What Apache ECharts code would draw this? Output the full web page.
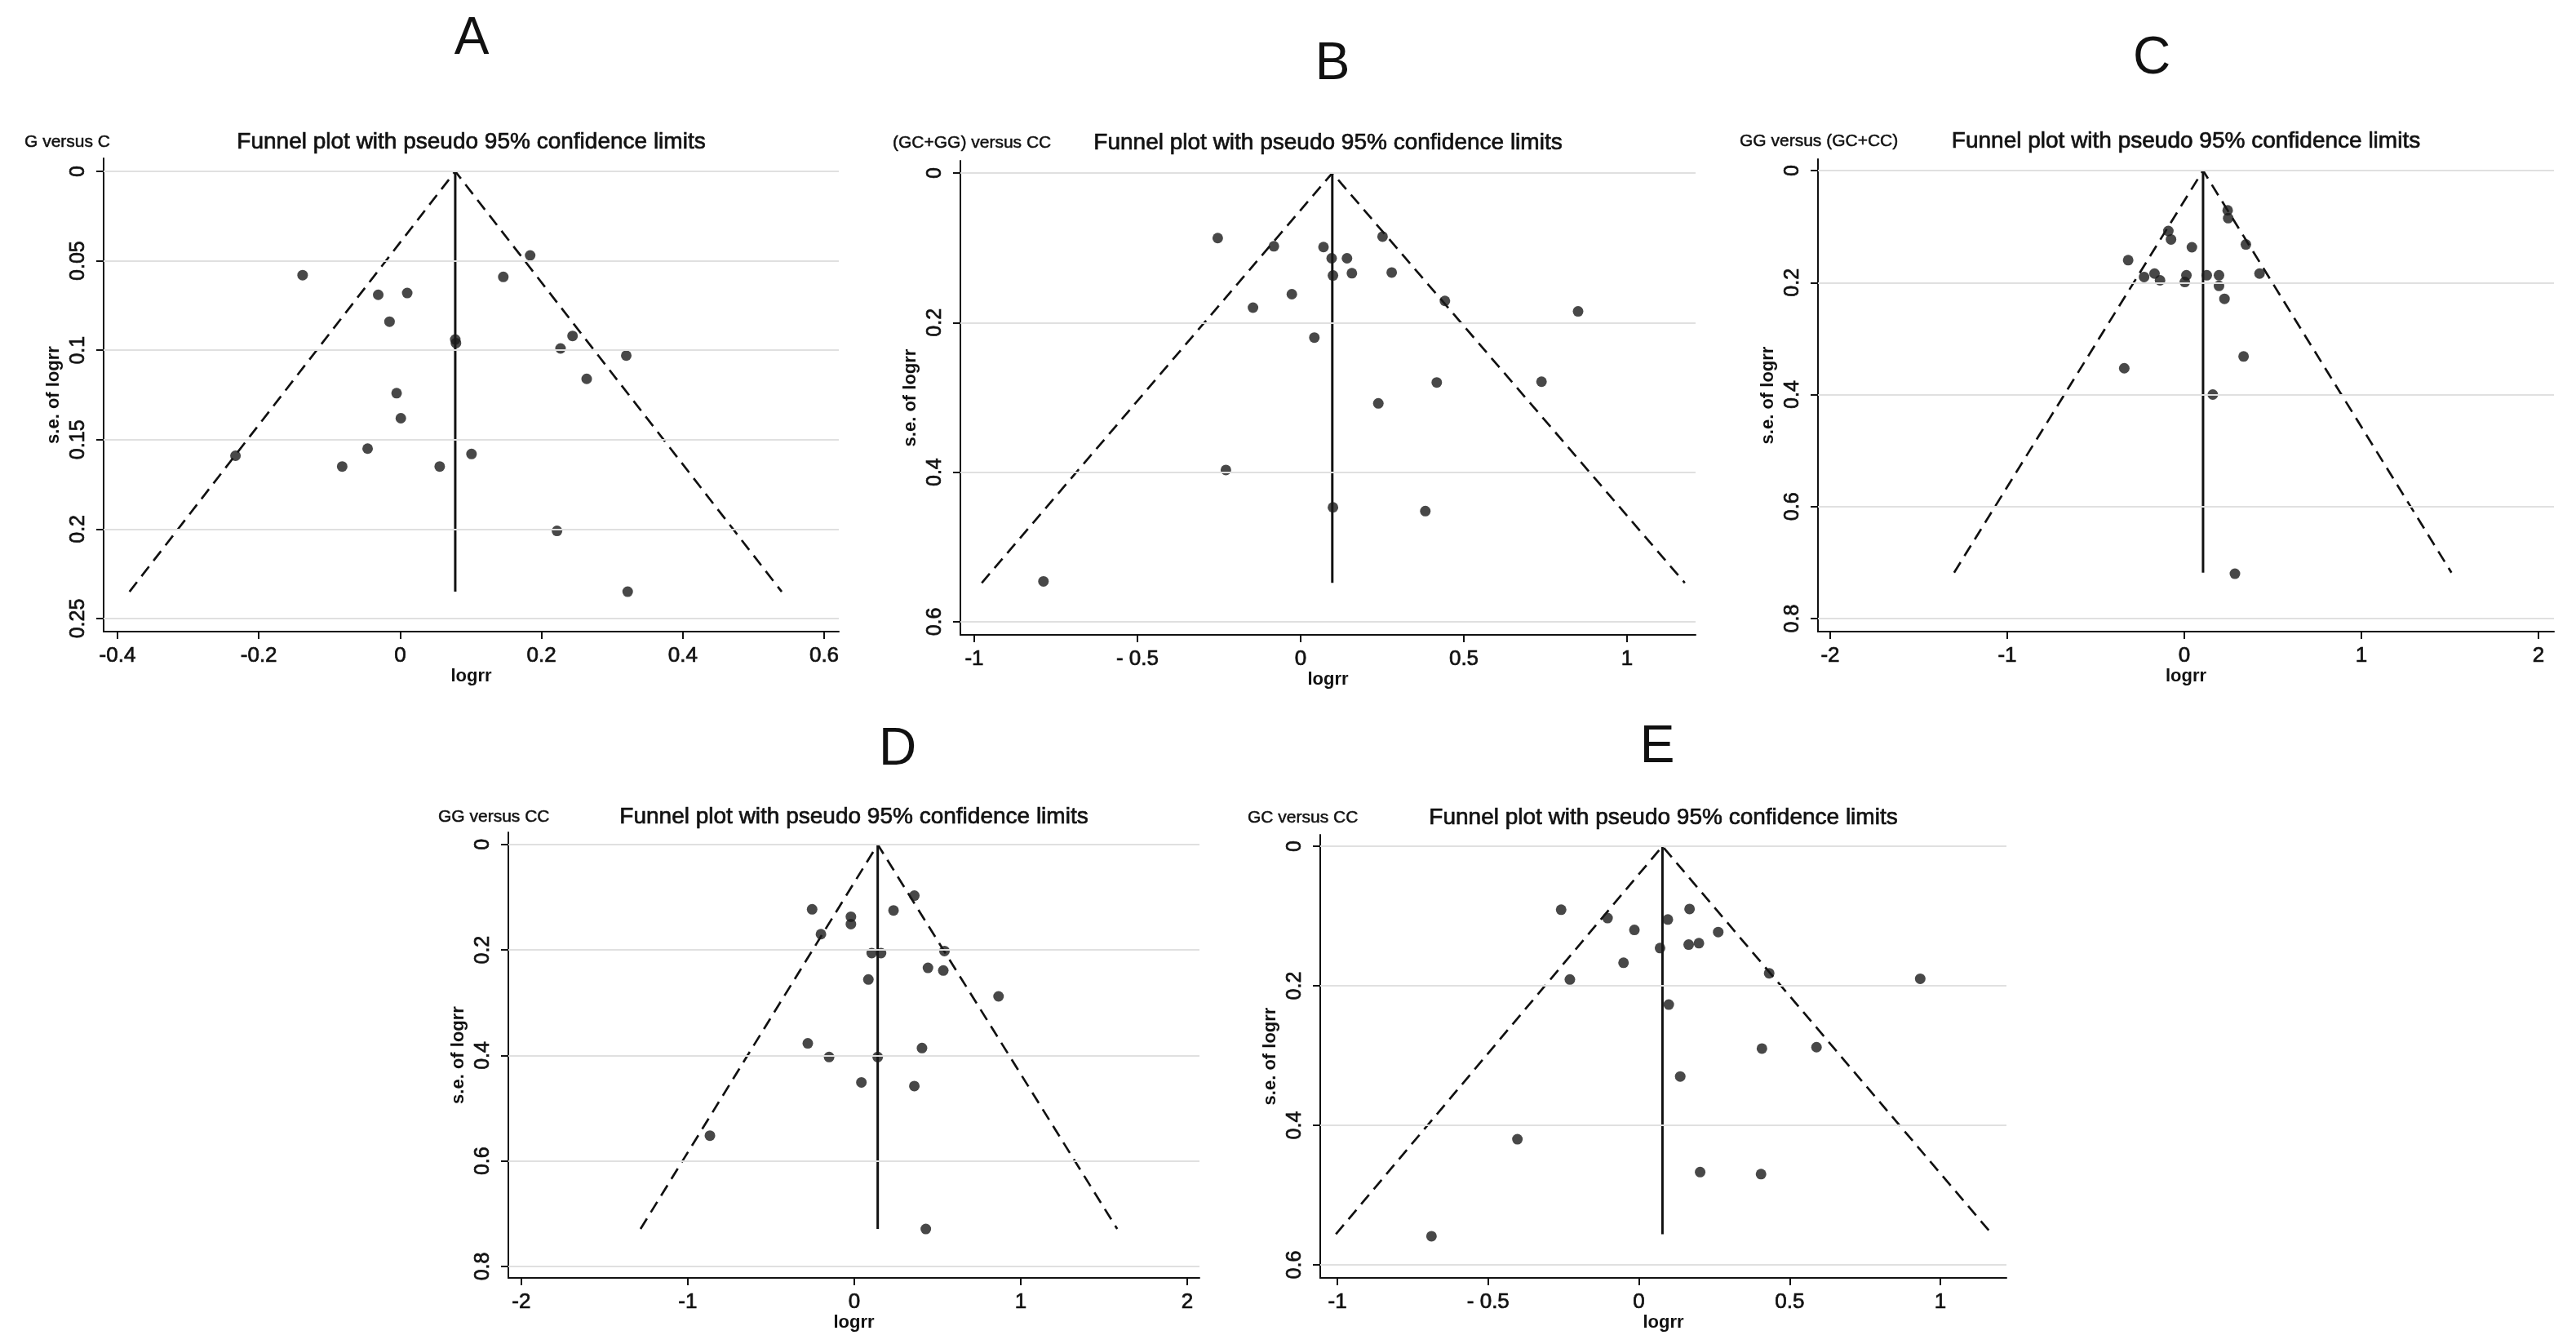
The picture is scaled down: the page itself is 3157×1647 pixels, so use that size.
<!DOCTYPE html>
<html>
<head>
<meta charset="utf-8">
<script src="https://cdn.jsdelivr.net/npm/echarts@6/dist/echarts.min.js"></script>
<style>
html,body{margin:0;padding:0;background:#fff;}
#c{width:3157px;height:1647px;}
</style>
</head>
<body>
<div id="c"></div>
<script>
// ---------- data ----------
const panelLetters = ['A', 'B', 'C', 'D', 'E'];
const comparisons = ['G versus C', '(GC+GG) versus CC', 'GG versus (GC+CC)', 'GG versus CC', 'GC versus CC'];
const plotTitle = 'Funnel plot with pseudo 95% confidence limits';

const logrrA = [-0.138, 0.184, 0.146, -0.031, 0.010, -0.015, 0.078, 0.079, 0.244, 0.227, 0.320, 0.264, -0.005, 0.001, -0.046, -0.233, -0.082, 0.056, 0.101, 0.222, 0.322];
const seA    = [0.058, 0.047, 0.059, 0.069, 0.068, 0.084, 0.094, 0.096, 0.092, 0.099, 0.103, 0.116, 0.124, 0.138, 0.155, 0.159, 0.165, 0.165, 0.158, 0.201, 0.235];

const logrrB = [-0.254, -0.082, 0.070, 0.251, 0.095, 0.142, 0.099, 0.157, 0.279, -0.027, -0.146, 0.442, 0.850, 0.042, 0.417, 0.738, 0.238, -0.229, 0.099, 0.382, -0.788];
const seB    = [0.087, 0.098, 0.099, 0.085, 0.114, 0.114, 0.137, 0.134, 0.133, 0.162, 0.180, 0.171, 0.185, 0.220, 0.280, 0.279, 0.308, 0.397, 0.447, 0.452, 0.546];

const logrrC = [0.245, 0.248, -0.090, -0.075, 0.043, 0.348, -0.317, -0.227, -0.168, -0.137, 0.012, 0.003, 0.127, 0.196, 0.196, 0.425, 0.227, -0.339, 0.335, 0.161, 0.286];
const seC    = [0.071, 0.085, 0.108, 0.123, 0.137, 0.132, 0.160, 0.190, 0.184, 0.196, 0.187, 0.199, 0.187, 0.187, 0.206, 0.184, 0.229, 0.353, 0.332, 0.400, 0.720];

const logrrD = [0.361, -0.253, 0.236, -0.020, -0.020, -0.200, 0.105, 0.161, 0.542, 0.443, 0.535, 0.085, 0.867, -0.279, -0.151, 0.141, 0.407, 0.043, 0.361, -0.867, 0.430];
const seD    = [0.097, 0.123, 0.125, 0.137, 0.151, 0.170, 0.206, 0.206, 0.202, 0.234, 0.239, 0.256, 0.288, 0.377, 0.403, 0.403, 0.386, 0.451, 0.458, 0.552, 0.729];

const logrrE = [-0.258, -0.104, 0.096, 0.168, -0.015, 0.263, 0.070, 0.165, 0.199, -0.051, -0.229, 0.432, 0.933, 0.099, 0.408, 0.589, 0.137, -0.403, 0.203, 0.405, -0.688];
const seE    = [0.091, 0.103, 0.105, 0.090, 0.120, 0.123, 0.146, 0.141, 0.139, 0.167, 0.191, 0.182, 0.190, 0.227, 0.290, 0.288, 0.330, 0.420, 0.467, 0.470, 0.559];

// pooled estimate (vertical line) and pseudo 95% limits at the largest s.e.
const pooled   = [0.078, 0.097, 0.106, 0.141, 0.078];
const seMax    = [0.235, 0.548, 0.718, 0.729, 0.556];
const limitLow = [-0.383, -0.977, -1.300, -1.284, -1.005];
const limitHigh= [0.540, 1.177, 1.509, 1.580, 1.171];

// tick values and labels
const xTicksA = [-0.4, -0.2, 0, 0.2, 0.4, 0.6];  const xLabelsA = ['-0.4', '-0.2', '0', '0.2', '0.4', '0.6'];
const yTicksA = [0, 0.05, 0.1, 0.15, 0.2, 0.25]; const yLabelsA = ['0', '0.05', '0.1', '0.15', '0.2', '0.25'];
const xTicksB = [-1, -0.5, 0, 0.5, 1];           const xLabelsB = ['-1', '- 0.5', '0', '0.5', '1'];
const yTicksB = [0, 0.2, 0.4, 0.6];              const yLabelsB = ['0', '0.2', '0.4', '0.6'];
const xTicksC = [-2, -1, 0, 1, 2];               const xLabelsC = ['-2', '-1', '0', '1', '2'];
const yTicksC = [0, 0.2, 0.4, 0.6, 0.8];         const yLabelsC = ['0', '0.2', '0.4', '0.6', '0.8'];
const xTicksD = [-2, -1, 0, 1, 2];               const xLabelsD = ['-2', '-1', '0', '1', '2'];
const yTicksD = [0, 0.2, 0.4, 0.6, 0.8];         const yLabelsD = ['0', '0.2', '0.4', '0.6', '0.8'];
const xTicksE = [-1, -0.5, 0, 0.5, 1];           const xLabelsE = ['-1', '- 0.5', '0', '0.5', '1'];
const yTicksE = [0, 0.2, 0.4, 0.6];              const yLabelsE = ['0', '0.2', '0.4', '0.6'];

// ---------- layout ----------
const layout = [
  {left: 127,  top: 194,  width: 901, height: 580, xmin: -0.4196, xmax: 0.6208, ymin: -0.0073, ymax: 0.2573, letter: [578, 48],   titleY: 174, subX: 30},
  {left: 1177, top: 197,  width: 901, height: 581, xmin: -1.0425, xmax: 1.21,   ymin: -0.0164, ymax: 0.6175, letter: [1633, 79],  titleY: 175, subX: 1094},
  {left: 2228, top: 195,  width: 902, height: 579, xmin: -2.069,  xmax: 2.088,  ymin: -0.0204, ymax: 0.8233, letter: [2637, 72],  titleY: 173, subX: 2132},
  {left: 623,  top: 1020, width: 847, height: 546, xmin: -2.078,  xmax: 2.074,  ymin: -0.023,  ymax: 0.8217, letter: [1100, 919], titleY: 1001, subX: 537},
  {left: 1618, top: 1023, width: 841, height: 543, xmin: -1.057,  xmax: 1.219,  ymin: -0.0164, ymax: 0.6187, letter: [2031, 916], titleY: 1002, subX: 1529}
];

const panels = [
  {x: logrrA, y: seA, xt: xTicksA, xl: xLabelsA, yt: yTicksA, yl: yLabelsA},
  {x: logrrB, y: seB, xt: xTicksB, xl: xLabelsB, yt: yTicksB, yl: yLabelsB},
  {x: logrrC, y: seC, xt: xTicksC, xl: xLabelsC, yt: yTicksC, yl: yLabelsC},
  {x: logrrD, y: seD, xt: xTicksD, xl: xLabelsD, yt: yTicksD, yl: yLabelsD},
  {x: logrrE, y: seE, xt: xTicksE, xl: xLabelsE, yt: yTicksE, yl: yLabelsE}
];

const FONT = 'Liberation Sans, Arial, Helvetica, sans-serif';
const INK = '#111';
const HEAVY = 0.7; // slight stroke to mimic the heavier text of the original

const grids = [], xAxes = [], yAxes = [], series = [], graphics = [];

panels.forEach((p, i) => {
  const L = layout[i];
  grids.push({left: L.left, top: L.top, width: L.width, height: L.height, containLabel: false});
  xAxes.push({
    type: 'value', gridIndex: i, min: L.xmin, max: L.xmax,
    name: 'logrr', nameLocation: 'middle', nameGap: 43,
    nameTextStyle: {fontFamily: FONT, fontSize: 22, fontWeight: 'bold', color: INK},
    axisLine: {show: true, onZero: false, lineStyle: {color: INK, width: 2}},
    axisTick: {show: true, length: 9, lineStyle: {color: INK, width: 2}, customValues: p.xt},
    axisLabel: {customValues: p.xt, fontFamily: FONT, fontSize: 26, color: INK, margin: 17,
      textBorderColor: INK, textBorderWidth: HEAVY,
      formatter: (v) => { const k = p.xt.findIndex(t => Math.abs(t - v) < 1e-9); return k >= 0 ? p.xl[k] : ''; }},
    splitLine: {show: false}
  });
  yAxes.push({
    type: 'value', gridIndex: i, min: L.ymin, max: L.ymax, inverse: true,
    name: 's.e. of logrr', nameLocation: 'middle', nameGap: 50, nameRotate: 90,
    nameTextStyle: {fontFamily: FONT, fontSize: 22, fontWeight: 'bold', color: INK},
    axisLine: {show: true, onZero: false, lineStyle: {color: INK, width: 2}},
    axisTick: {show: true, length: 9, lineStyle: {color: INK, width: 2}, customValues: p.yt},
    axisLabel: {customValues: p.yt, rotate: 90, fontFamily: FONT, fontSize: 25, color: INK, margin: 18,
      textBorderColor: INK, textBorderWidth: HEAVY,
      formatter: (v) => { const k = p.yt.findIndex(t => Math.abs(t - v) < 1e-9); return k >= 0 ? p.yl[k] : ''; }},
    splitLine: {show: false}
  });
  // horizontal grid lines at the y ticks
  series.push({
    type: 'line', xAxisIndex: i, yAxisIndex: i, data: [], z: 1, silent: true,
    markLine: {
      silent: true, symbol: ['none', 'none'], label: {show: false}, animation: false,
      lineStyle: {color: '#e0e0e0', width: 2, type: 'solid'},
      data: p.yt.map(v => ({yAxis: v}))
    }
  });
  // pseudo 95% confidence limits (dashed)
  series.push({
    type: 'line', xAxisIndex: i, yAxisIndex: i, z: 3, silent: true, symbol: 'none',
    lineStyle: {color: INK, width: 2.7, type: [15, 9]},
    data: [[limitLow[i], seMax[i]], [pooled[i], 0], [limitHigh[i], seMax[i]]]
  });
  // pooled estimate (solid vertical)
  series.push({
    type: 'line', xAxisIndex: i, yAxisIndex: i, z: 3, silent: true, symbol: 'none',
    lineStyle: {color: INK, width: 3, type: 'solid'},
    data: [[pooled[i], 0], [pooled[i], seMax[i]]]
  });
  // studies
  series.push({
    type: 'scatter', xAxisIndex: i, yAxisIndex: i, z: 4, symbol: 'circle', symbolSize: 13,
    itemStyle: {color: '#1a1a1a'},
    data: p.x.map((v, k) => [v, p.y[k]])
  });

  // texts
  graphics.push({type: 'text', x: L.letter[0], y: L.letter[1],
    style: {text: panelLetters[i], fontFamily: FONT, fontSize: 64, fill: INK, align: 'center', verticalAlign: 'middle'}});
  graphics.push({type: 'text', x: L.left + L.width / 2, y: L.titleY,
    style: {text: plotTitle, fontFamily: FONT, fontSize: 28, fill: INK, stroke: INK, lineWidth: HEAVY,
      align: 'center', verticalAlign: 'middle'}});
  graphics.push({type: 'text', x: L.subX, y: L.titleY,
    style: {text: comparisons[i], fontFamily: FONT, fontSize: 21, fill: INK, stroke: INK, lineWidth: 0.5,
      align: 'left', verticalAlign: 'middle'}});
});

const chart = echarts.init(document.getElementById('c'), null, {renderer: 'canvas'});
chart.setOption({
  backgroundColor: '#ffffff',
  animation: false,
  grid: grids,
  xAxis: xAxes,
  yAxis: yAxes,
  series: series,
  graphic: graphics
});
</script>
</body>
</html>
